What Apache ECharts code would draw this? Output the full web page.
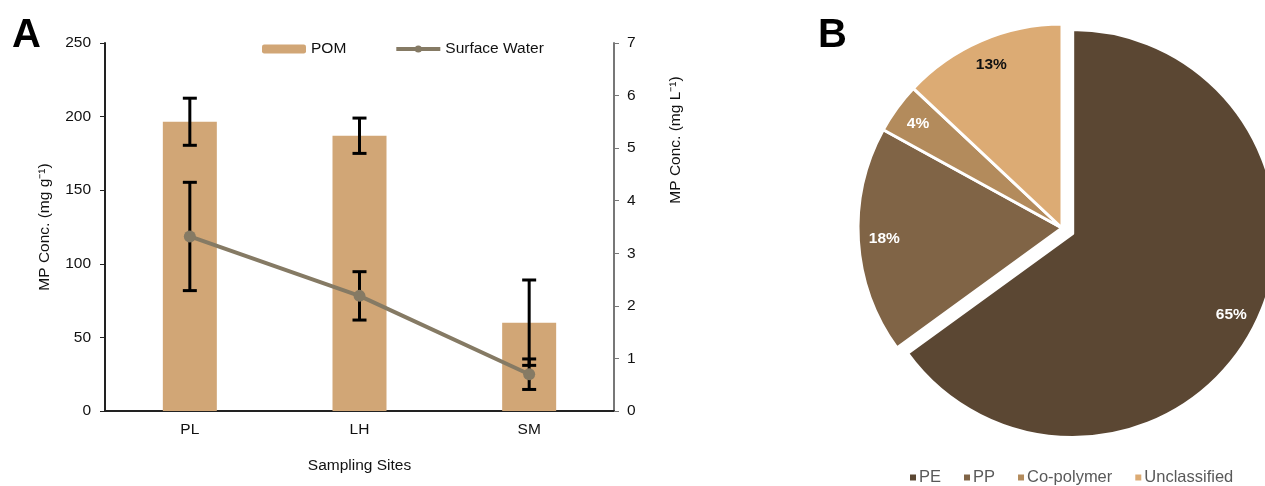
<!DOCTYPE html>
<html>
<head>
<meta charset="utf-8">
<script src="https://cdn.jsdelivr.net/npm/echarts@6/dist/echarts.min.js"></script>
<style>
  html, body { margin: 0; padding: 0; background: #fff; }
  #main { width: 1265px; height: 486px; }
</style>
</head>
<body>
<div id="main"></div>
<script>
// panel A data
var sites = ['PL', 'LH', 'SM'];
var pomMean = [196.5, 187, 60];
var pomErr = [16, 12, 29];
var swMean = [3.32, 2.19, 0.7];
var swErr = [1.03, 0.46, 0.29];
var leftTicks = [0, 50, 100, 150, 200, 250];
var rightTicks = [0, 1, 2, 3, 4, 5, 6, 7];

// panel B data
var polymers = ['PE', 'PP', 'Co-polymer', 'Unclassified'];
var shares = [65, 18, 4, 13];
var pieColors = ['#5b4733', '#806446', '#b38b5c', '#dcab74'];
var pieLabelColors = ['#fff', '#fff', '#fff', '#111'];

var font = 'Liberation Sans, Arial, Helvetica, sans-serif';

var chart = echarts.init(document.getElementById('main'));

// error bars are drawn as custom series
function errData(mean, err) {
    return mean.map(function (m, i) { return [i, m - err[i], m + err[i]]; });
}
function renderErr(params, api) {
    var x = api.value(0);
    var lo = api.coord([x, api.value(1)]);
    var hi = api.coord([x, api.value(2)]);
    var w = 7;
    var st = { stroke: '#000', lineWidth: 3 };
    return {
        type: 'group',
        children: [
            { type: 'line', shape: { x1: lo[0], y1: lo[1], x2: hi[0], y2: hi[1] }, style: st },
            { type: 'line', shape: { x1: lo[0] - w, y1: lo[1], x2: lo[0] + w, y2: lo[1] }, style: st },
            { type: 'line', shape: { x1: hi[0] - w, y1: hi[1], x2: hi[0] + w, y2: hi[1] }, style: st }
        ]
    };
}

var pieData = polymers.map(function (n, i) {
    return { name: n, value: shares[i], selected: i === 0, itemStyle: { color: pieColors[i] } };
});
var pieLabelData = polymers.map(function (n, i) {
    return { name: n, value: shares[i], selected: i === 0, label: { color: pieLabelColors[i] } };
});

var option = {
    backgroundColor: '#fff',
    textStyle: { fontFamily: font },
    title: [
        { text: 'A', left: 7, top: 11, textStyle: { fontSize: 40, fontWeight: 'bold', color: '#000', fontFamily: font } },
        { text: 'B', left: 813, top: 11, textStyle: { fontSize: 40, fontWeight: 'bold', color: '#000', fontFamily: font } }
    ],
    legend: [
        {
            data: ['POM', 'Surface Water'],
            left: 257, top: 36,
            itemWidth: 44, itemHeight: 9, itemGap: 48,
            lineStyle: { width: 4 },
            textStyle: { fontSize: 15.5, color: '#111', fontFamily: font }
        },
        {
            data: polymers,
            left: 903, top: 464,
            icon: 'rect', itemWidth: 8, itemHeight: 8, itemGap: 21,
            textStyle: { fontSize: 16.5, color: '#595959', fontFamily: font, padding: [0, 0, 0, -3] }
        }
    ],
    grid: { left: 105, right: 651, top: 43, bottom: 75 },
    xAxis: {
        type: 'category',
        data: sites,
        name: 'Sampling Sites',
        nameLocation: 'middle',
        nameGap: 47,
        nameTextStyle: { fontSize: 15.5, color: '#111' },
        axisLine: { lineStyle: { color: '#222', width: 2 } },
        axisTick: { show: false },
        axisLabel: { fontSize: 15.5, color: '#111', margin: 11 }
    },
    yAxis: [
        {
            type: 'value',
            min: leftTicks[0], max: leftTicks[leftTicks.length - 1], interval: 50,
            name: 'MP Conc. (mg g⁻¹)',
            nameLocation: 'middle', nameRotate: 90, nameGap: 52,
            nameTextStyle: { fontSize: 15.5, color: '#111' },
            axisLine: { show: true, lineStyle: { color: '#222', width: 2 } },
            axisTick: { show: true, length: 5, lineStyle: { color: '#222' } },
            axisLabel: { fontSize: 15.5, color: '#111', margin: 14 },
            splitLine: { show: false }
        },
        {
            type: 'value',
            position: 'right',
            min: rightTicks[0], max: rightTicks[rightTicks.length - 1], interval: 1,
            axisLine: { show: true, lineStyle: { color: '#777', width: 2 } },
            axisTick: { show: true, length: 5, lineStyle: { color: '#777' } },
            axisLabel: { fontSize: 15.5, color: '#111', margin: 13 },
            splitLine: { show: false }
        }
    ],
    graphic: [
        {
            type: 'text',
            x: 676, y: 140, rotation: Math.PI / 2,
            style: { text: 'MP Conc. (mg L⁻¹)', fontSize: 15.5, fill: '#111', fontFamily: font, align: 'center', verticalAlign: 'middle' }
        }
    ],
    series: [
        {
            name: 'POM',
            type: 'bar',
            data: pomMean,
            barWidth: 54,
            itemStyle: { color: '#d1a676' },
            z: 2
        },
        {
            type: 'custom',
            renderItem: renderErr,
            data: errData(pomMean, pomErr),
            encode: { x: 0, y: [1, 2] },
            z: 3
        },
        {
            type: 'custom',
            yAxisIndex: 1,
            renderItem: renderErr,
            data: errData(swMean, swErr),
            encode: { x: 0, y: [1, 2] },
            z: 3
        },
        {
            name: 'Surface Water',
            type: 'line',
            yAxisIndex: 1,
            data: swMean,
            symbol: 'circle',
            symbolSize: 12,
            lineStyle: { color: '#857a64', width: 4 },
            itemStyle: { color: '#857a64' },
            z: 4
        },
        {
            type: 'pie',
            center: [1062, 228],
            radius: [0, 204],
            startAngle: 90,
            selectedMode: 'single',
            selectedOffset: 12,
            data: pieData,
            label: { show: false },
            labelLine: { show: false },
            itemStyle: { borderColor: '#fff', borderWidth: 3 },
            emphasis: { disabled: true }
        },
        {
            type: 'pie',
            center: [1062, 228],
            radius: [146, 204],
            startAngle: 90,
            selectedMode: 'single',
            selectedOffset: 12,
            silent: true,
            data: pieLabelData,
            itemStyle: { color: 'rgba(0,0,0,0)', borderWidth: 0 },
            label: { show: true, position: 'inside', formatter: '{d}%', fontSize: 15.5, fontWeight: 'bold', fontFamily: font },
            labelLine: { show: false },
            emphasis: { disabled: true },
            z: 3
        }
    ]
};

chart.setOption(option);
</script>
</body>
</html>
